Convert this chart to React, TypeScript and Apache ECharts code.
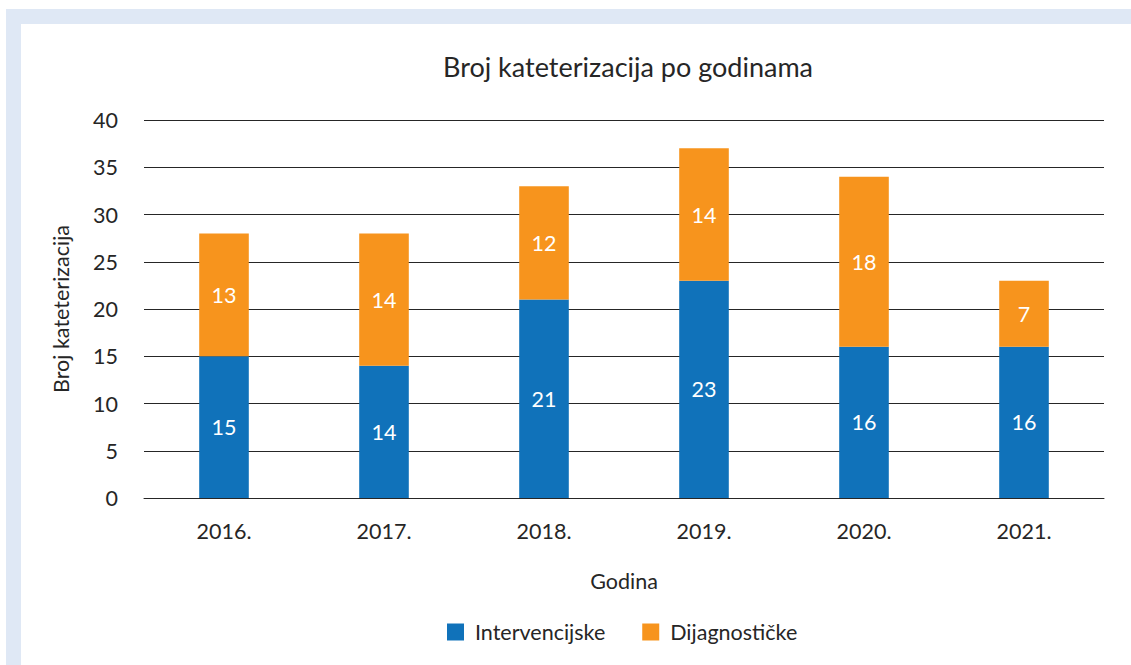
import React, { useEffect, useRef } from "react";
import * as echarts from "echarts";

const years = ["2016.", "2017.", "2018.", "2019.", "2020.", "2021."];
const intervencijske = [15, 14, 21, 23, 16, 16];
const dijagnosticke = [13, 14, 12, 14, 18, 7];
const titleText = "Broj kateterizacija po godinama";
const yAxisName = "Broj kateterizacija";
const xAxisName = "Godina";
const seriesNames = ["Intervencijske", "Dijagnostičke"];

const FONT = "Lato, 'Open Sans', sans-serif";
const FS = 21.5;
const TXT = "#262626";

export default function App() {
  const ref = useRef<HTMLDivElement>(null);
  useEffect(() => {
    document.body.style.margin = "0";
    const chart = echarts.init(ref.current!, undefined, { renderer: "svg" });
    chart.setOption({
      animation: false,
      backgroundColor: "#fff",
      textStyle: { fontFamily: FONT },
      graphic: [
        { type: "rect", shape: { x: 6, y: 9, width: 1125, height: 15 }, style: { fill: "#DFE8F5" }, z: -10 },
        { type: "rect", shape: { x: 6, y: 9, width: 15, height: 656 }, style: { fill: "#DFE8F5" }, z: -10 },
      ],
      title: {
        text: titleText,
        left: 623,
        textAlign: "center",
        top: 48,
        textStyle: { fontFamily: FONT, fontSize: 27, fontWeight: "normal", color: TXT },
      },
      legend: {
        top: 616,
        left: 442,
        itemWidth: 17,
        itemHeight: 17,
        itemGap: 37,
        icon: "rect",
        textStyle: { fontFamily: FONT, fontSize: FS, color: TXT, padding: [0, 0, 0, 6] },
        data: seriesNames,
      },
      grid: { left: 144, right: 27, top: 120, bottom: 167, containLabel: false },
      xAxis: {
        type: "category",
        data: years,
        name: xAxisName,
        nameLocation: "middle",
        nameGap: 72,
        nameTextStyle: { fontFamily: FONT, fontSize: FS, color: TXT },
        axisLine: { lineStyle: { color: TXT, width: 1 } },
        axisTick: { show: false },
        axisLabel: { fontFamily: FONT, fontSize: FS, color: TXT, margin: 22 },
      },
      yAxis: {
        type: "value",
        min: 0,
        max: 40,
        interval: 5,
        name: yAxisName,
        nameLocation: "middle",
        nameGap: 72,
        nameTextStyle: { fontFamily: FONT, fontSize: FS, color: TXT },
        axisLine: { show: false },
        axisTick: { show: false },
        axisLabel: { fontFamily: FONT, fontSize: FS, color: TXT, margin: 26 },
        splitLine: { lineStyle: { color: TXT, width: 1 } },
      },
      series: [
        {
          name: seriesNames[0],
          type: "bar",
          stack: "total",
          data: intervencijske,
          barWidth: "31%",
          itemStyle: { color: "#1072BA" },
          label: { show: true, position: "inside", color: "#fff", fontSize: FS, fontFamily: FONT },
        },
        {
          name: seriesNames[1],
          type: "bar",
          stack: "total",
          data: dijagnosticke,
          barWidth: "31%",
          itemStyle: { color: "#F7941D" },
          label: { show: true, position: "inside", color: "#fff", fontSize: FS, fontFamily: FONT },
        },
      ],
    });
    return () => chart.dispose();
  }, []);
  return <div ref={ref} style={{ width: 1131, height: 665 }} />;
}
